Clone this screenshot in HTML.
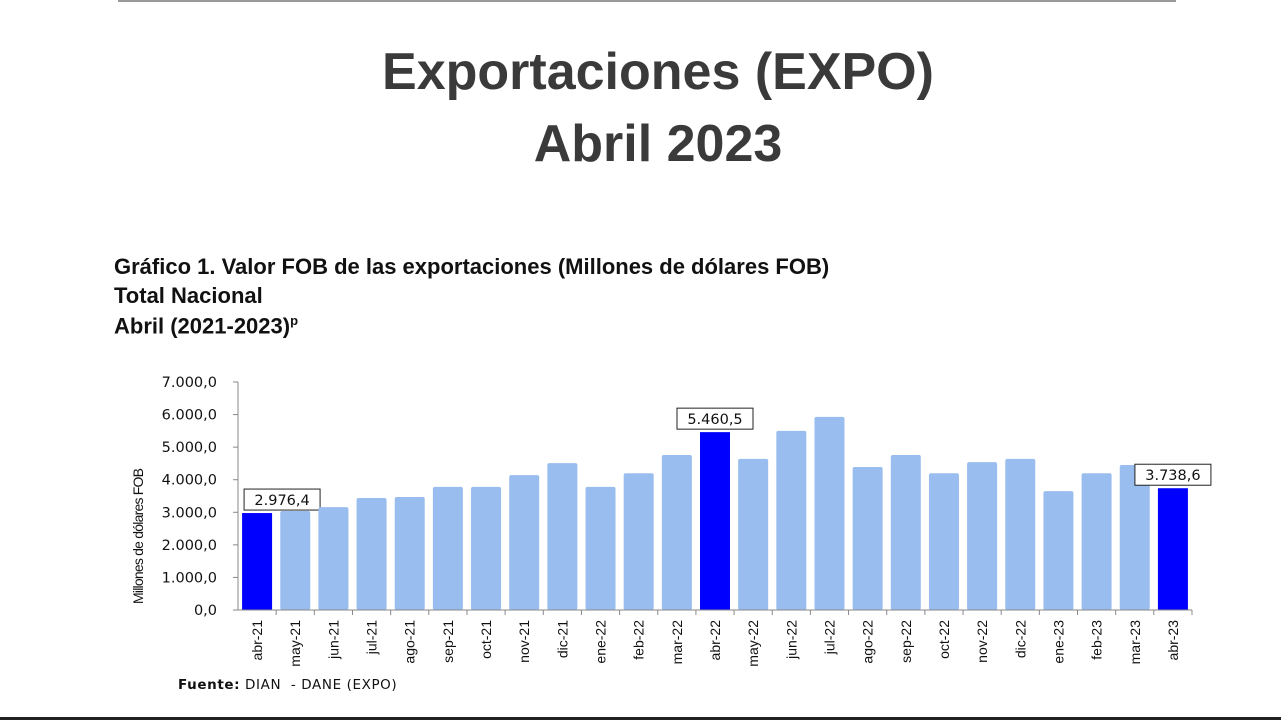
<!DOCTYPE html>
<html><head><meta charset="utf-8"><style>
body{margin:0;background:#fff;width:1281px;height:720px;overflow:hidden;position:relative;font-family:"Liberation Sans",sans-serif}
.t{position:absolute;left:0;width:1316px;text-align:center;font-weight:bold;color:#3a3a3a;font-size:52px}
.s{position:absolute;left:114px;font-weight:bold;font-size:22px;color:#111}
</style></head><body>
<div style="position:absolute;left:118px;top:0;width:1058px;height:2px;background:#999"></div>
<div class="t" style="top:42px">Exportaciones (EXPO)</div>
<div class="t" style="top:114px">Abril 2023</div>
<div class="s" style="top:254px">Gráfico 1. Valor FOB de las exportaciones (Millones de dólares FOB)</div>
<div class="s" style="top:283px">Total Nacional</div>
<div class="s" style="top:313px">Abril (2021-2023)<sup style="font-size:13px">p</sup></div>
<svg id="c" width="1281" height="720" style="position:absolute;left:0;top:0"></svg>
<div style="position:absolute;left:178px;top:677px;font-size:13.5px;letter-spacing:0.6px;color:#111;font-family:'DejaVu Sans',sans-serif"><b>Fuente:</b> DIAN &nbsp;- DANE (EXPO)</div>
<div style="position:absolute;left:0;top:717px;width:1281px;height:3px;background:#222"></div>
<script>
const cats=["abr-21","may-21","jun-21","jul-21","ago-21","sep-21","oct-21","nov-21","dic-21","ene-22","feb-22","mar-22","abr-22","may-22","jun-22","jul-22","ago-22","sep-22","oct-22","nov-22","dic-22","ene-23","feb-23","mar-23","abr-23"];
const vals=[2976.4,3040,3160,3440,3470,3780,3780,4140,4510,3780,4200,4760,5460.5,4640,5500,5930,4390,4760,4200,4540,4640,3650,4200,4450,3738.6];
const highlighted=["abr-21","abr-22","abr-23"];
const yTicks=[0,1000,2000,3000,4000,5000,6000,7000];
const yTickLabels=["0,0","1.000,0","2.000,0","3.000,0","4.000,0","5.000,0","6.000,0","7.000,0"];
const svg=document.getElementById('c'),NS='http://www.w3.org/2000/svg';
const F='DejaVu Sans';
const x0=238,x1=1192,y0=610,y1=382,n=cats.length,cw=(x1-x0)/n;
const Y=v=>y0-(v/7000)*(y0-y1), X=i=>x0+cw*i+cw/2;
function mk(t,a,txt){const e=document.createElementNS(NS,t);for(const k in a)e.setAttribute(k,a[k]);if(txt!=null)e.textContent=txt;svg.appendChild(e);return e;}
let e;
e=mk('line',{x1:x0,y1:y1,x2:x0,y2:y0,stroke:'#888'});


yTicks.forEach((v,i)=>{
 e=mk('line',{x1:x0-5,x2:x0,y1:Y(v),y2:Y(v),stroke:'#888'});
 
 
 e=mk('text',{x:217,y:Y(v)+5,'text-anchor':'end','font-size':14.5,fill:'#111','font-family':F},yTickLabels[i]);
 
 
});
e=mk('text',{transform:'translate(143,536) rotate(-90)','text-anchor':'middle','font-size':14,fill:'#111','font-family':'Liberation Sans Narrow, Liberation Sans','textLength':136},'Millones de dólares FOB');


cats.forEach((c,i)=>{
 const hl=highlighted.includes(c);
 e=mk('rect',{x:X(i)-15,y:Y(vals[i]),width:30,height:y0-Y(vals[i]),fill:hl?'#0000ff':'#99bdee',rx:hl?0:2});
 
 
 e=mk('line',{x1:x0+cw*(i+1),x2:x0+cw*(i+1),y1:y0,y2:y0+5,stroke:'#888'});
 
 
 e=mk('text',{transform:`translate(${X(i)+5},${y0+10}) rotate(-90)`,'text-anchor':'end','font-size':14,fill:'#111','font-family':'Liberation Sans'},c);
 
 
 if(hl){
  const lbl=vals[i].toLocaleString('de-DE',{minimumFractionDigits:1,maximumFractionDigits:1});
  const off=i===0?25:(i===n-1?0:0);
  const bx=X(i)-38+off,by=Y(vals[i])-24;
  e=mk('rect',{x:bx,y:by,width:76,height:21,fill:'#fff',stroke:'#222'});
  
  
  e=mk('text',{x:bx+38,y:by+16,'text-anchor':'middle','font-size':14.5,fill:'#111','font-family':F},lbl);
  
  
 }
});
e=mk('line',{x1:x0,y1:y0,x2:x1,y2:y0,stroke:'#888'});


</script>
</body></html>
